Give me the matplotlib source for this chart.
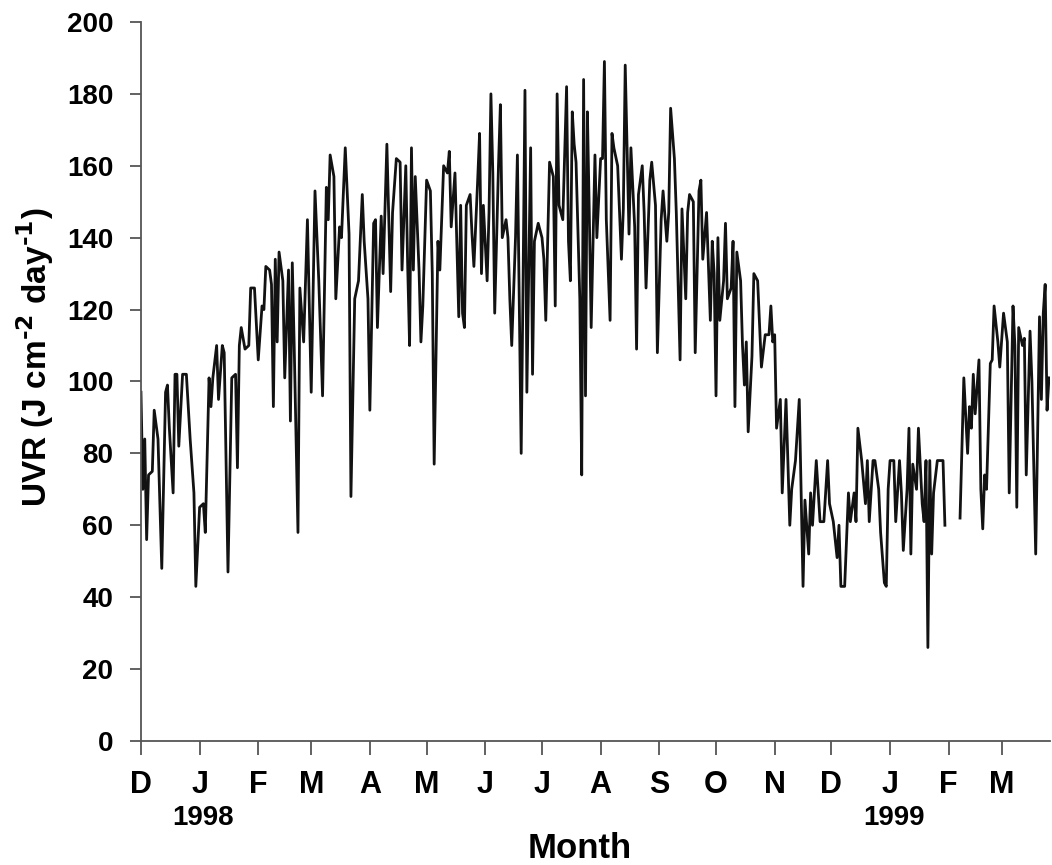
import matplotlib
matplotlib.use("Agg")
import matplotlib.pyplot as plt
import numpy as np

# days since 1 Dec 1997, daily UVR (nan = missing data)
day = [0, 1, 2, 3, 4, 6, 7, 9, 11, 13, 14, 15, 17, 18, 19, 20, 22, 24, 26, 28, 29, 31, 33, 34,
       36, 37, 38, 40, 41, 43, 44, 46, 48, 50, 51, 52,
       53, 55, 57, 58, 60, 62, 64, 65, 66, 68, 69, 70, 71, 72, 73, 75, 76, 78, 79, 80, 81, 83,
       84, 86, 88, 90, 92, 94, 96, 98, 99, 100, 102, 103, 105, 106, 108, 110, 111, 113, 115, 117,
       118, 120, 121, 123, 124, 125, 127, 128, 130, 132, 133, 135, 137, 138, 140, 141, 142, 143,
       144, 145, 147, 148, 149, 151, 153, 154, 155, 157, 158, 160, 162, 163, 164, 166, 168, 169,
       170, 171, 172, 174,
       175, 176, 178, 179, 180, 181, 183, 184, 185, 186, 187, 189, 190, 191, 193, 194, 195, 196,
       198, 199, 200, 201, 202, 203, 204, 206, 207, 208, 210, 212, 213, 214, 216, 218, 219, 220,
       221, 223, 225, 226, 227, 228, 229, 230, 232, 233,
       234, 235, 236, 237, 238, 240, 241, 243, 244, 245, 246, 248, 249, 250, 252, 254, 255, 256,
       258, 259, 261, 262, 263, 265, 266, 267, 269, 270, 272, 273, 275, 276, 278, 279, 280, 282,
       283, 285, 286, 288, 289, 290,
       292, 293, 295, 296, 297, 299, 301, 302, 303, 304, 305, 306, 308, 309, 310, 312, 313, 314,
       315, 317, 318, 319, 320, 321, 323, 324, 326, 328, 330, 332, 333, 334, 335, 336, 338, 339,
       341, 342, 343, 344, 346, 348,
       350, 351, 353, 354, 355, 357, 359, 361, 363, 364, 366, 368, 369, 370, 372, 374, 375, 377,
       378, 379, 381, 383, 384, 385, 387, 388, 390, 391, 393, 394, 395, 396, 398, 399, 401, 402,
       403, 405, 406,
       407, 408, 410, 411, 413, 414, 415, 416, 417, 418, 419, 421, 423, 424, 425, 429, 433, 435,
       437, 438, 439, 440, 441, 443, 444, 445, 446, 447, 449, 450, 451, 453, 454, 456, 458, 459,
       461, 462, 463, 464, 466, 467, 468, 470, 471, 473, 475, 476, 477, 478, 479, 480]

uvr = [97, 70, 84, 56, 74, 75, 92, 84, 48, 97, 99, 87, 69, 102, 102, 82, 102, 102, 84, 69, 43, 65, 66, 58,
       101, 93, 101, 110, 95, 110, 108, 47, 101, 102, 76, 110,
       115, 109, 110, 126, 126, 106, 121, 120, 132, 131, 127, 93, 134, 111, 136, 128, 101, 131, 89, 133, 110, 58,
       126, 111, 145, 97, 153, 128, 96, 154, 145, 163, 157, 123, 143, 140, 165, 141, 68, 123, 128, 152,
       139, 123, 92, 144, 145, 115, 146, 130, 166, 125, 147, 162, 161, 131, 160, 132, 110, 165,
       131, 157, 131, 111, 121, 156, 153, 130, 77, 139, 131, 160, 158, 164, 143, 158, 118, 149,
       119, 115, 149, 152,
       141, 132, 156, 169, 130, 149, 128, 147, 180, 158, 119, 160, 177, 140, 145, 140, 123, 110,
       140, 163, 121, 80, 128, 181, 97, 165, 102, 139, 144, 140, 134, 117, 161, 157, 121, 180,
       149, 145, 182, 139, 128, 175, 166, 161, 123, 74,
       184, 96, 175, 147, 115, 163, 140, 162, 162, 189, 145, 117, 169, 165, 160, 134, 148, 188,
       141, 165, 143, 109, 152, 160, 147, 126, 156, 161, 149, 108, 145, 153, 139, 147, 176, 162,
       147, 106, 148, 123, 147, 152,
       150, 108, 153, 156, 134, 147, 117, 139, 130, 96, 140, 117, 128, 144, 123, 126, 139, 93,
       136, 128, 110, 99, 111, 86, 107, 130, 128, 104, 113, 113, 121, 111, 113, 87, 95, 69,
       95, 77, 60, 70, 78, 95,
       43, 67, 52, 69, 60, 78, 61, 61, 78, 66, 61, 51, 60, 43, 43, 69, 61, 69,
       61, 87, 78, 66, 78, 61, 78, 78, 70, 58, 44, 43, 70, 78, 78, 61, 78, 69,
       53, 70, 87,
       52, 77, 70, 87, 66, 61, 78, 26, 78, 52, 69, 78, 78, 78, 60, np.nan, 62, 101,
       80, 93, 87, 102, 91, 106, 70, 59, 74, 70, 105, 106, 121, 111, 104, 119, 111, 69,
       121, 110, 65, 115, 110, 112, 74, 114, 100, 52, 118, 95, 119, 127, 92, 101]

month_start = [0, 31, 62, 90, 121, 151, 182, 212, 243, 274, 304, 335, 365, 396, 427, 455]
month_lab = ["D", "J", "F", "M", "A", "M", "J", "J", "A", "S", "O", "N", "D", "J", "F", "M"]
years = [("1998", 33), ("1999", 398)]

plt.rcParams['font.family'] = ['Liberation Sans', 'DejaVu Sans']
plt.rcParams['font.weight'] = 'bold'
plt.rcParams['mathtext.default'] = 'bf'

fig = plt.figure(figsize=(10.52, 8.65), dpi=100)
ax = fig.add_axes([0.134, 0.1434, 0.864, 0.8312])

ax.plot(day, uvr, color="#121212", lw=2.0)

ax.set_xlim(0, 480.5)
ax.set_ylim(0, 200)
ax.set_yticks(np.arange(0, 201, 20))
ax.set_xticks(month_start)
ax.set_xticklabels(month_lab)
ax.tick_params(axis='y', labelsize=20, width=1.3, length=8, color="#555555", pad=12)
ax.tick_params(axis='x', labelsize=22, width=1.3, length=10, color="#555555", pad=11)
for lab in ax.get_xticklabels() + ax.get_yticklabels():
    lab.set_fontweight('bold')

for s in ["top", "right"]:
    ax.spines[s].set_visible(False)
for s in ["left", "bottom"]:
    ax.spines[s].set_color("#555555")
    ax.spines[s].set_linewidth(1.3)

trans = ax.get_xaxis_transform()
for txt, d in years:
    ax.text(d, -0.107, txt, transform=trans, ha="center", va="center",
            fontsize=20, fontweight="bold")

ax.text(0.483, -0.149, "Month", transform=ax.transAxes, ha="center", va="center",
        fontsize=25, fontweight="bold")
ax.text(-0.116, 0.534, r"UVR (J cm$^{\text{-2}}$ day$^{\text{-1}}$)", transform=ax.transAxes,
        ha="center", va="center", rotation=90, fontsize=24, fontweight="bold")

fig.savefig("out.png", dpi=100)
